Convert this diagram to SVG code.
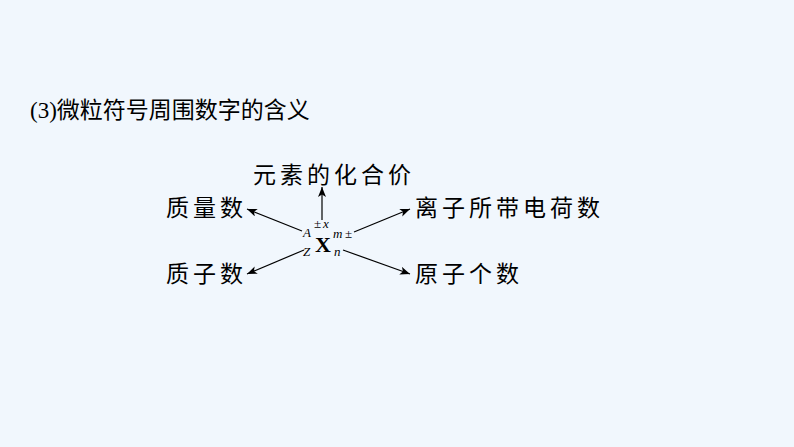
<svg xmlns="http://www.w3.org/2000/svg" width="794" height="447" viewBox="0 0 794 447">
  <style>
    .cjk { font-family: "Noto Sans CJK SC", "Noto Sans", sans-serif; font-size: 23px; fill: #000; }
    .lbl { letter-spacing: 4px; }
    .ser { font-family: "Liberation Serif", "DejaVu Serif", serif; fill: #000; }
    .it { font-style: italic; font-size: 13px; }
    .conn { stroke: #000; stroke-width: 1.2; fill: none; marker-end: url(#arr); }
  </style>
  <defs>
    <marker id="arr" markerUnits="userSpaceOnUse" markerWidth="12" markerHeight="10" refX="10" refY="4" orient="auto">
      <path d="M0,0 L10,4 L0,8 L2.5,4 Z" fill="#000"/>
    </marker>
  </defs>
  <rect width="794" height="447" fill="#F1F7FD"/>
  <g id="title">
    <text x="30" y="118" class="cjk"><tspan class="ser" font-size="23">(3)</tspan>微粒符号周围数字的含义</text>
  </g>
  <g id="symbol">
    <text x="315" y="252" class="ser" font-size="22" font-weight="bold">X</text>
    <text x="303" y="237" class="ser it">A</text>
    <text x="303" y="256" class="ser it">Z</text>
    <text x="314" y="228" class="ser" font-size="13">±</text>
    <text x="323" y="228" class="ser it">x</text>
    <text x="333" y="238" class="ser it">m</text>
    <text x="345" y="238" class="ser" font-size="13">±</text>
    <text x="334" y="256" class="ser it">n</text>
  </g>
  <g id="valence"><text x="253" y="183" class="cjk lbl">元素的化合价</text></g>
  <g id="mass"><text x="166" y="216" class="cjk lbl">质量数</text></g>
  <g id="charge"><text x="415" y="216" class="cjk lbl">离子所带电荷数</text></g>
  <g id="proton"><text x="166" y="282" class="cjk lbl">质子数</text></g>
  <g id="atoms"><text x="415" y="282" class="cjk lbl">原子个数</text></g>
  <g id="connectors">
    <line class="conn" x1="322" y1="220" x2="322" y2="187"/>
    <line class="conn" x1="302" y1="231" x2="247" y2="209"/>
    <line class="conn" x1="354" y1="232" x2="410" y2="209"/>
    <line class="conn" x1="304" y1="250" x2="247" y2="274"/>
    <line class="conn" x1="343" y1="250" x2="410" y2="274"/>
  </g>
</svg>
